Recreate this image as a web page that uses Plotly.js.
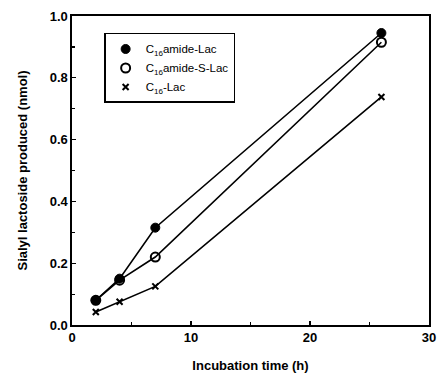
<!DOCTYPE html>
<html><head><meta charset="utf-8">
<script src="https://cdn.plot.ly/plotly-3.0.1.min.js"></script>
<style>html,body{margin:0;padding:0;background:#fff}</style>
</head><body><div id="chart" style="width:437px;height:380px"></div>
<script>
const times = [2, 4, 7, 26];
const amideLac = [0.08, 0.15, 0.315, 0.945];
const amideSLac = [0.08, 0.145, 0.22, 0.915];
const c16Lac = [0.042, 0.075, 0.125, 0.738];
const names = ['C<sub>16</sub>amide-Lac', 'C<sub>16</sub>amide-S-Lac', 'C<sub>16</sub>-Lac'];
const xTicks = [0, 10, 20, 30];
const yTicks = [0, 0.2, 0.4, 0.6, 0.8, 1.0];

const fam = 'Liberation Sans, Arial, sans-serif';
const line = {color: '#000', width: 1.6};
const series = [amideLac, amideSLac, c16Lac];
const markers = [
  {symbol: 'circle', size: 9, color: '#000', line: {color: '#000', width: 1}},
  {symbol: 'circle-open', size: 9, color: '#000', line: {color: '#000', width: 2}},
  {symbol: 'x-thin-open', size: 6, color: '#000', line: {color: '#000', width: 2}}
];
const traces = [];
series.forEach((ys, i) => {
  traces.push({x: times, y: ys, mode: 'lines', line: line, showlegend: false, hoverinfo: 'skip'});
});
series.forEach((ys, i) => {
  traces.push({x: times, y: ys, name: names[i], mode: 'markers', marker: markers[i]});
});
const layout = {
  width: 437, height: 380,
  margin: {l: 72, r: 8, t: 16, b: 55},
  paper_bgcolor: '#fff', plot_bgcolor: '#fff',
  showlegend: true,
  legend: {x: 0.09, y: 0.945, xanchor: 'left', yanchor: 'top', bordercolor: '#000', borderwidth: 1.5,
    bgcolor: '#fff', font: {family: fam, size: 11.5, color: '#000'}, tracegroupgap: 0,
    itemwidth: 30},
  xaxis: {range: [0, 30], tickvals: xTicks, ticktext: xTicks.map(String),
    ticks: 'inside', ticklen: 4, tickwidth: 1.2, tickcolor: '#000',
    minor: {dtick: 5, ticks: 'inside', ticklen: 3, tickcolor: '#000'},
    showgrid: false, zeroline: false, showline: true, linecolor: '#000', linewidth: 1.6, mirror: true,
    tickfont: {family: fam, size: 13, color: '#000', weight: 'bold'},
    title: {text: 'Incubation time (h)', font: {family: fam, size: 13, color: '#000', weight: 'bold'}, standoff: 16}},
  yaxis: {range: [0, 1.0], tickvals: yTicks, ticktext: yTicks.map(v => v.toFixed(1)),
    ticks: 'inside', ticklen: 4, tickwidth: 1.2, tickcolor: '#000',
    minor: {dtick: 0.1, ticks: 'inside', ticklen: 3, tickcolor: '#000'},
    showgrid: false, zeroline: false, showline: true, linecolor: '#000', linewidth: 1.6, mirror: true,
    tickfont: {family: fam, size: 13, color: '#000', weight: 'bold'},
    title: {text: 'Sialyl lactoside produced (nmol)', font: {family: fam, size: 13, color: '#000', weight: 'bold'}, standoff: 19}}
};
Plotly.newPlot('chart', traces, layout, {displayModeBar: false, staticPlot: true});
</script></body></html>
